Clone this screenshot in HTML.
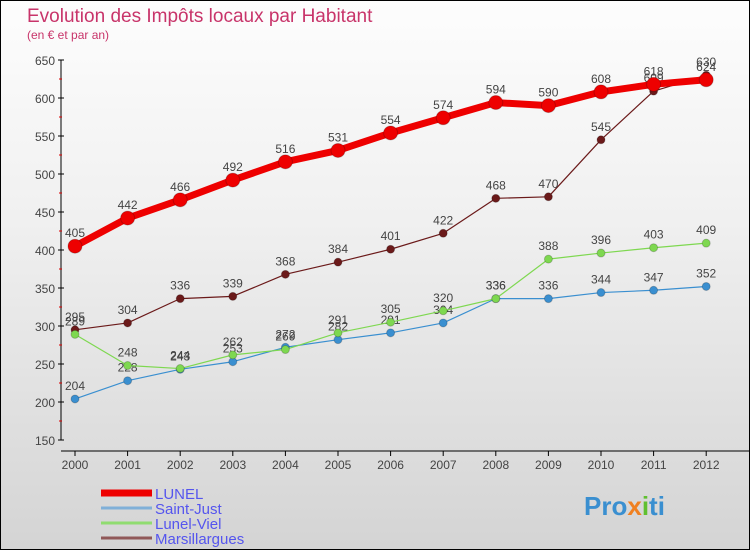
<!DOCTYPE html>
<html><head><meta charset="utf-8"><style>
body{margin:0;}
#c{width:748px;height:548px;border:1px solid #000;background:linear-gradient(#fdfdfd,#f0f0f0 40%,#d4d4d4);position:relative;font-family:"Liberation Sans",sans-serif;}
</style></head><body>
<div id="c">
<svg id="s" width="748" height="548" style="position:absolute;left:0;top:0"></svg>
</div>
<script>
const years=["2000","2001","2002","2003","2004","2005","2006","2007","2008","2009","2010","2011","2012"];
const lunel=[405,442,466,492,516,531,554,574,594,590,608,618,624];
const saintJust=[204,228,243,253,272,282,291,304,336,336,344,347,352];
const lunelViel=[289,248,244,262,269,291,305,320,336,388,396,403,409];
const marsillargues=[295,304,336,339,368,384,401,422,468,470,545,609,630];
const yTicks=[150,200,250,300,350,400,450,500,550,600,650];
const NS="http://www.w3.org/2000/svg";
const s=document.getElementById('s');
function X(i){return 74+i*52.6;}
function Y(v){return 59+(650-v)*0.76;}
function el(t,a,p){const e=document.createElementNS(NS,t);for(const k in a)e.setAttribute(k,a[k]);(p||s).appendChild(e);return e;}
function txt(x,y,str,a){const e=el('text',Object.assign({x:x,y:y},a));e.textContent=str;return e;}
let t=txt(26,21,"Evolution des Impôts locaux par Habitant",{fill:"#c8346a","font-size":19});


t=txt(26,38,"(en € et par an)",{fill:"#c8346a","font-size":12});


// axes
let ax=el('line',{x1:60,y1:Y(650),x2:60,y2:Y(150),stroke:"#000","stroke-width":1});


ax=el('line',{x1:60,y1:450,x2:748,y2:450,stroke:"#000","stroke-width":1});


yTicks.forEach((v,i)=>{
 el('line',{x1:57,y1:Y(v),x2:63,y2:Y(v),stroke:"#000"});
 if(i<yTicks.length-1) el('line',{x1:58,y1:Y(v+25),x2:61,y2:Y(v+25),stroke:"#d00"});
 const l=txt(54,Y(v)+5,String(v),{fill:"#444","font-size":12,"text-anchor":"end"});
 
 
});
years.forEach((y,i)=>{
 el('line',{x1:X(i),y1:450,x2:X(i),y2:455,stroke:"#000"});
 const l=txt(X(i),468,y,{fill:"#444","font-size":12,"text-anchor":"middle"});
 
 
});
function series(data,color,w,r,name){
 const g=el('g',{});
 
 
 el('polyline',{points:data.map((v,i)=>X(i)+","+Y(v)).join(" "),fill:"none",stroke:color,"stroke-width":w,"stroke-linejoin":"round"},g);
 data.forEach((v,i)=>{
  const c=el('circle',{cx:X(i),cy:Y(v),r:r,fill:color,stroke:"rgba(0,0,0,0.2)"},g);
  
  
  txt(X(i),Y(v)-9,String(v),{fill:"#444","font-size":12,"text-anchor":"middle"},g);
 });
}
series(marsillargues,"#6b1a1a",1.2,4,"series-marsillargues");
series(saintJust,"#3a8fd0",1.2,4,"series-saint-just");
series(lunelViel,"#7ed850",1.2,4,"series-lunel-viel");
series(lunel,"#ee0000",7,7,"series-lunel");
// legend
const leg=[["LUNEL","#ee0000",7],["Saint-Just","#80b0d8",3],["Lunel-Viel","#90dc70",3],["Marsillargues","#905858",3]];
leg.forEach((l,i)=>{
 const y=492+i*15;
 const g=el('g',{});
 
 
 el('line',{x1:100,y1:y,x2:151,y2:y,stroke:l[1],"stroke-width":l[2]},g);
 txt(154,y+6,l[0],{fill:"#5555ee","font-size":15},g);
});
// logo
const lg=txt(583,514,"",{"font-size":26,"font-weight":"bold"});


[["Pro","#3a8fd0"],["x","#f08020"],["i","#60c030"],["ti","#3a8fd0"]].forEach(p=>{const ts=el('tspan',{fill:p[1]},lg);ts.textContent=p[0];});
</script>
</body></html>
